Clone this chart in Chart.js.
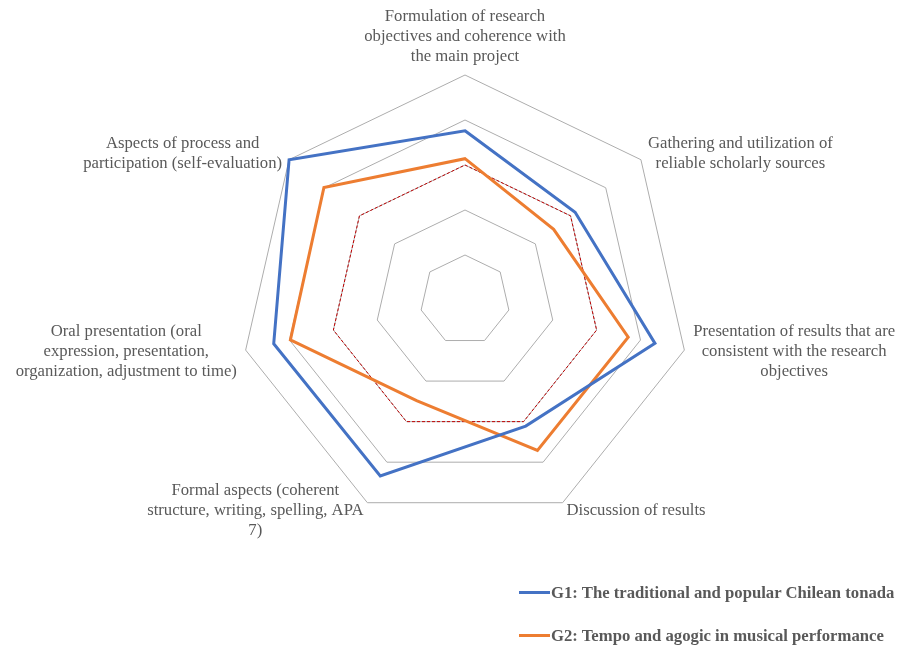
<!DOCTYPE html>
<html>
<head>
<meta charset="utf-8">
<script src="https://cdn.jsdelivr.net/npm/chart.js@4"></script>
<style>
  body { margin: 0; background: #fff; }
  #wrap { position: relative; width: 904px; height: 650px; }
  #legend { position: absolute; left: 519px; top: 571px; font: bold 16.7px "Liberation Serif", serif; color: #595959; }
  .item { height: 43px; display: flex; align-items: center; white-space: nowrap; }
  .swatch { display: inline-block; width: 31px; height: 3px; margin-right: 1px; }
</style>
</head>
<body>
<div id="wrap">
  <canvas id="mycanvas" width="904" height="650"></canvas>
  <div id="legend"></div>
</div>
<script>
// axis labels (multi-line)
var criteria = [
  ["Formulation of research", "objectives and coherence with", "the main project"],
  ["Gathering and utilization of", "reliable scholarly sources"],
  ["Presentation of results that are", "consistent with the research", "objectives"],
  ["Discussion of results"],
  ["Formal aspects (coherent", "structure, writing, spelling, APA", "7)"],
  ["Oral presentation (oral", "expression, presentation,", "organization, adjustment to time)"],
  ["Aspects of process and", "participation (self-evaluation)"]
];

var g1_scores = [3.76, 3.13, 4.33, 3.11, 4.34, 4.36, 5.0];
var g2_scores = [3.14, 2.52, 3.72, 3.71, 2.48, 3.98, 4.01];
var threshold = [3, 3, 3, 3, 3, 3, 3];

var g1_label = "G1: The traditional and popular Chilean tonada";
var g2_label = "G2: Tempo and agogic in musical performance";

var labelFont = '16.7px "Liberation Serif", serif';

// draws the point labels Excel-style (centered lines, block outside the vertex)
var pointLabelPlugin = {
  id: 'pointLabelPlugin',
  afterDraw: function(chart) {
    var scale = chart.scales.r;
    var ctx = chart.ctx;
    var lh = 20;
    ctx.save();
    ctx.font = labelFont;
    ctx.fillStyle = '#595959';
    ctx.textAlign = 'center';
    ctx.textBaseline = 'middle';
    for (var i = 0; i < criteria.length; i++) {
      var lines = criteria[i];
      var p = scale.getPointPositionForValue(i, scale.max);
      var ang = scale.getIndexAngle(i) - Math.PI / 2;
      var c = Math.cos(ang), s = Math.sin(ang);
      var w = 0;
      lines.forEach(function(t) { w = Math.max(w, ctx.measureText(t).width); });
      var h = lines.length * lh;
      var cx, cy;
      if (Math.abs(c) < 0.1) {
        cx = p.x;
        cy = p.y - 8 - h / 2;
      } else {
        var x = p.x + 9 * c;
        cx = c > 0 ? x + w / 2 : x - w / 2;
        cy = p.y + 9 * s;
      }
      var top = cy - h / 2;
      for (var j = 0; j < lines.length; j++) {
        ctx.fillText(lines[j], cx, top + lh * j + lh / 2);
      }
    }
    ctx.restore();
  }
};

var chartdata = {
  labels: criteria,
  datasets: [
    {
      label: g1_label,
      data: g1_scores,
      fill: false,
      borderColor: "#4472C4",
      backgroundColor: "#4472C4",
      borderWidth: 3,
      pointRadius: 0,
      lineTension: 0
    },
    {
      label: g2_label,
      data: g2_scores,
      fill: false,
      borderColor: "#ED7D31",
      backgroundColor: "#ED7D31",
      borderWidth: 3,
      pointRadius: 0,
      lineTension: 0
    },
    {
      label: "threshold",
      data: threshold,
      fill: false,
      borderColor: "#C00000",
      borderWidth: 1,
      borderDash: [3, 2],
      pointRadius: 0,
      lineTension: 0
    }
  ]
};

var ctx = document.getElementById("mycanvas");

var RadarGraph = new Chart(ctx, {
  type: 'radar',
  data: chartdata,
  plugins: [pointLabelPlugin],
  options: {
    responsive: false,
    animation: false,
    layout: { padding: { top: 75, bottom: 125, left: 240, right: 214 } },
    plugins: { legend: { display: false }, tooltip: { enabled: false } },
    scales: {
      r: {
        min: 0,
        max: 5,
        ticks: { display: false, stepSize: 1 },
        grid: { color: "#ADADAD", lineWidth: 1 },
        angleLines: { display: false },
        pointLabels: { display: false }
      }
    }
  }
});

var legend = document.getElementById("legend");
[[g1_label, "#4472C4"], [g2_label, "#ED7D31"]].forEach(function(it) {
  var d = document.createElement("div");
  d.className = "item";
  d.innerHTML = '<span class="swatch" style="background:' + it[1] + '"></span><span>' + it[0] + '</span>';
  legend.appendChild(d);
});
</script>
</body>
</html>
